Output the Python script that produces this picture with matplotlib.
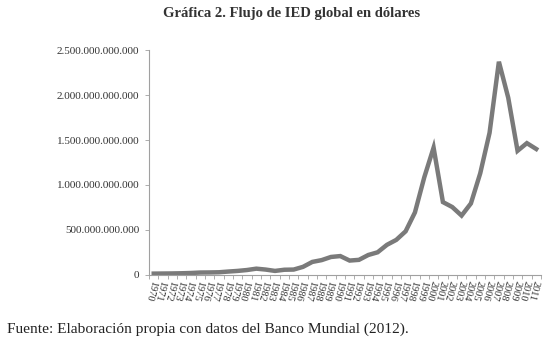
import matplotlib
matplotlib.use('Agg')
import matplotlib.pyplot as plt
import numpy as np
from matplotlib.ticker import FuncFormatter

# Flujo de IED global (dolares), lectura aproximada del grafico
years = list(range(1970, 2012))
ied = [15e9, 16e9, 17e9, 19e9, 22e9, 27e9, 28e9, 30e9, 38e9, 45e9,
       55e9, 70e9, 60e9, 45e9, 58e9, 60e9, 90e9, 145e9, 165e9, 200e9,
       210e9, 160e9, 168e9, 222e9, 252e9, 335e9, 390e9, 485e9, 695e9, 1085e9,
       1415e9, 810e9, 755e9, 660e9, 795e9, 1130e9, 1580e9, 2370e9, 1970e9, 1380e9,
       1465e9, 1400e9]
yticks = [0, 500e9, 1000e9, 1500e9, 2000e9, 2500e9]

plt.rcParams['font.family'] = ['Liberation Serif', 'DejaVu Serif']

fig = plt.figure(figsize=(5.48, 3.45), dpi=100)
ax = fig.add_axes([0.272, 0.203, 0.715, 0.652])

ax.plot(years, ied, color='#7a7a7a', linewidth=3.2, solid_joinstyle='miter')

ax.set_xlim(1969.5, 2011.5)
ax.set_ylim(0, 2500e9)
ax.set_yticks(yticks)
ax.yaxis.set_major_formatter(FuncFormatter(lambda v, p: '{:,.0f}'.format(v).replace(',', '.')))
ax.set_xticks(years)
ax.set_xticklabels([str(y) for y in years], rotation=-105, ha='left', va='center',
                   rotation_mode='anchor', fontsize=7.5)
ax.set_xticks(np.arange(1969.5, 2012, 1), minor=True)
ax.tick_params(axis='x', which='major', length=0, pad=4)
ax.tick_params(axis='x', which='minor', length=3, color='#a0a0a0', width=0.6)
ax.tick_params(axis='y', length=3, color='#a0a0a0', width=0.6, labelsize=8, pad=4, labelcolor='#333333')
ax.tick_params(axis='x', labelcolor='#333333')

for s in ['top', 'right']:
    ax.spines[s].set_visible(False)
for s in ['left', 'bottom']:
    ax.spines[s].set_color('#a0a0a0')
    ax.spines[s].set_linewidth(0.8)

fig.text(0.532, 0.962, 'Gráfica 2. Flujo de IED global en dólares', ha='center', va='center',
         fontsize=10.5, fontweight='bold', color='#333333')
fig.text(0.012, 0.045, 'Fuente: Elaboración propia con datos del Banco Mundial (2012).',
         ha='left', va='center', fontsize=11.05, color='#222222')

fig.savefig('out.png', dpi=100)
